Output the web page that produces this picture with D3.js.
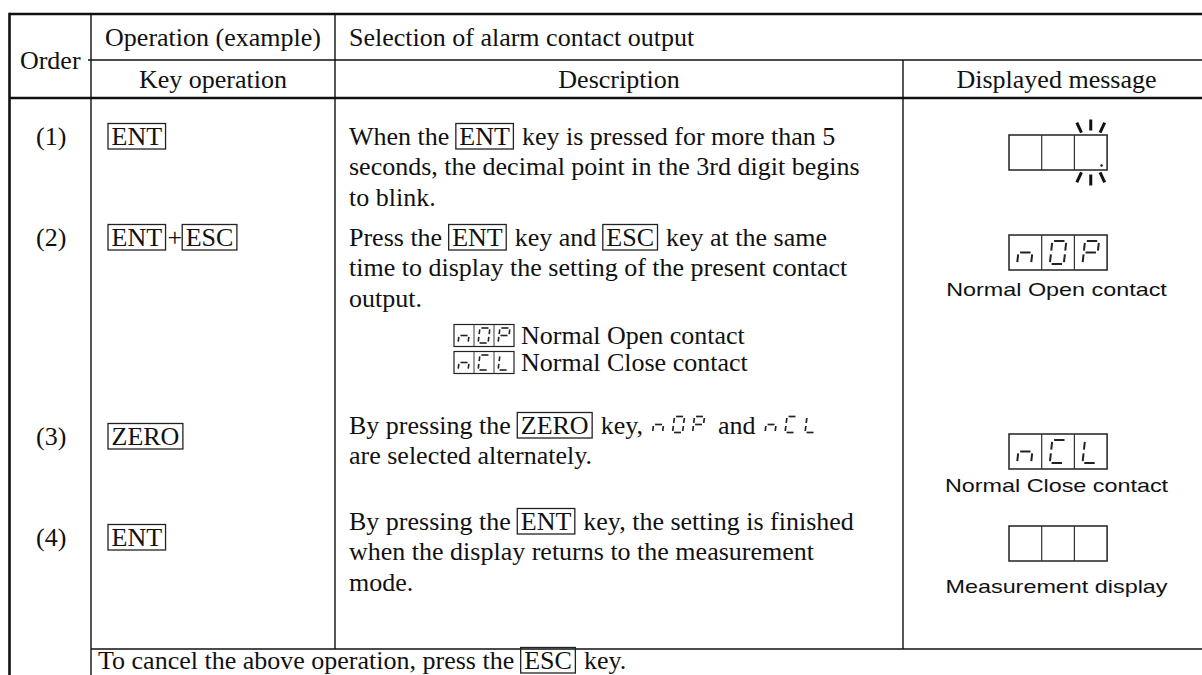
<!DOCTYPE html>
<html><head><meta charset="utf-8">
<script src="https://cdn.jsdelivr.net/npm/d3@7"></script>
<style>html,body{margin:0;padding:0;background:#fff;} svg{display:block} text{white-space:pre}</style>
</head><body><svg id="c" width="1202" height="675"></svg>
<script>
// ---------- data ----------
const headerTop = ["Order", "Operation (example)", "Selection of alarm contact output"];
const headerSub = ["Key operation", "Description", "Displayed message"];
const orders = ["(1)", "(2)", "(3)", "(4)"];
const keyOps = [
  [{k: "ENT"}],
  [{k: "ENT"}, "+", {k: "ESC"}],
  [{k: "ZERO"}],
  [{k: "ENT"}]
];
const descriptions = [
  [["When the ", {k: "ENT"}, " key is pressed for more than 5"],
   ["seconds, the decimal point in the 3rd digit begins"],
   ["to blink."]],
  [["Press the ", {k: "ENT"}, " key and ", {k: "ESC"}, " key at the same"],
   ["time to display the setting of the present contact"],
   ["output."]],
  [["By pressing the ", {k: "ZERO"}, " key, ", {s: "nOP"}, " and ", {s: "nCL"}],
   ["are selected alternately."]],
  [["By pressing the ", {k: "ENT"}, " key, the setting is finished"],
   ["when the display returns to the measurement"],
   ["mode."]]
];
const legendCodes = ["nOP", "nCL"];
const legendTexts = ["Normal Open contact", "Normal Close contact"];
const displayCodes = ["   ", "nOP", "nCL", "   "];
const displayLabels = [null, "Normal Open contact", "Normal Close contact", "Measurement display"];
const blinkRow = 0;
const footnote = ["To cancel the above operation, press the ", {k: "ESC"}, " key."];

// seven-segment map
const SEG = {
  "n": "ceg", "0": "abcdef", "O": "abcdef", "P": "abefg", "C": "adef", "L": "def", " ": ""
};

// ---------- layout ----------
const svg = d3.select("#c");
const SERIF = "'Liberation Serif','Times New Roman',serif";
const SANS = "'Liberation Sans',Arial,sans-serif";
const FS = 26;
const colX = [9.5, 91, 335, 903, 1202];
const yTop = 14, yMid = 60, yHead = 98, yFoot = 649, yEnd = 675;
const lineGap = 30.6;
const descBase = [144.5, 245.5, 433.5, 529.5];
const orderBase = [144.5, 245.5, 444.5, 545.5];
const dispTop = [135, 235, 434, 526];
const labelMid = [null, 289, 485, 586];
const legendBase = [343.5, 370.5];

const g = svg.append("g");

function line(x1, y1, x2, y2, w) {
  g.append("line").attr("x1", x1).attr("y1", y1).attr("x2", x2).attr("y2", y2)
    .attr("stroke", "#111").attr("stroke-width", w);
}

// seven segment glyph
function glyph(parent, ch, x, y, w, h, sw, sl) {
  const P = {
    TL: [x + sl, y], TR: [x + w + sl, y],
    ML: [x + sl / 2, y + h / 2], MR: [x + w + sl / 2, y + h / 2],
    BL: [x, y + h], BR: [x + w, y + h]
  };
  const segs = {a: ["TL", "TR"], b: ["TR", "MR"], c: ["MR", "BR"], d: ["BL", "BR"],
                e: ["ML", "BL"], f: ["TL", "ML"], g: ["ML", "MR"]};
  const gap = sw * 0.9;
  (SEG[ch] || "").split("").forEach(s => {
    const [p, q] = segs[s].map(k => P[k]);
    const dx = q[0] - p[0], dy = q[1] - p[1], L = Math.hypot(dx, dy);
    const ux = dx / L, uy = dy / L;
    parent.append("line")
      .attr("x1", p[0] + ux * gap).attr("y1", p[1] + uy * gap)
      .attr("x2", q[0] - ux * gap).attr("y2", q[1] - uy * gap)
      .attr("stroke", "#222").attr("stroke-width", sw).attr("stroke-linecap", "butt");
  });
}

// display box with cells
function displayBox(parent, code, x, y, cw, ch, gw, gh, sw, bw) {
  const n = code.length;
  parent.append("rect").attr("x", x).attr("y", y).attr("width", cw * n).attr("height", ch)
    .attr("fill", "none").attr("stroke", "#222").attr("stroke-width", bw);
  d3.range(1, n).forEach(i => {
    parent.append("line").attr("x1", x + cw * i).attr("x2", x + cw * i)
      .attr("y1", y).attr("y2", y + ch).attr("stroke", "#333").attr("stroke-width", bw * 0.8);
  });
  code.split("").forEach((c, i) => {
    const sl = gw * 0.18;
    glyph(parent, c, x + cw * i + (cw - gw - sl) / 2, y + (ch - gh) / 2, gw, gh, sw, sl);
  });
}

// rich text line: tokens are strings, {k:key}, {s:segments}
function richLine(tokens, x, base) {
  let cur = x;
  tokens.forEach(t => {
    if (typeof t === "string") {
      const tx = g.append("text").attr("x", cur).attr("y", base)
        .attr("font-family", SERIF).attr("font-size", FS).attr("fill", "#111").text(t);
      cur += tx.node().getComputedTextLength();
    } else if (t.k) {
      const tx = g.append("text").attr("x", cur + 3.5).attr("y", base)
        .attr("font-family", SERIF).attr("font-size", FS).attr("fill", "#111").text(t.k);
      const w = tx.node().getComputedTextLength();
      g.append("rect").attr("x", cur).attr("y", base - 21).attr("width", w + 7).attr("height", 25.5)
        .attr("fill", "none").attr("stroke", "#222").attr("stroke-width", 1.3);
      cur += w + 9;
    } else if (t.s) {
      t.s.split("").forEach((c, i) => {
        glyph(g, c, cur + 3 + i * 20, base - 17, 10, 16, 1.7, 2);
      });
      cur += t.s.length * 20 + 2;
    }
  });
  return cur;
}

function centerText(str, cx, base, family, size) {
  return g.append("text").attr("x", cx).attr("y", base).attr("text-anchor", "middle")
    .attr("font-family", family).attr("font-size", size).attr("fill", "#111").text(str);
}

// ---------- grid ----------
line(colX[0], yTop, colX[4], yTop, 2.4);
line(colX[0], yTop - 1.2, colX[0], yEnd, 2.6);
line(colX[1], yTop, colX[1], yEnd, 1.4);
line(colX[2], yTop, colX[2], yFoot, 1.4);
line(colX[3], yMid, colX[3], yFoot, 1.4);
line(colX[1] - 3, yMid, colX[4], yMid, 1.3);
line(colX[0], yHead, colX[4], yHead, 2.6);
line(colX[1], yFoot, colX[4], yFoot, 1.4);

// ---------- headers ----------
centerText(headerTop[0], (colX[0] + colX[1]) / 2, 69, SERIF, FS);
centerText(headerTop[1], (colX[1] + colX[2]) / 2, 46, SERIF, FS);
g.append("text").attr("x", colX[2] + 14).attr("y", 46).attr("font-family", SERIF)
  .attr("font-size", FS).attr("fill", "#111").text(headerTop[2]);
centerText(headerSub[0], (colX[1] + colX[2]) / 2, 88, SERIF, FS);
centerText(headerSub[1], (colX[2] + colX[3]) / 2, 88, SERIF, FS);
centerText(headerSub[2], (colX[3] + colX[4]) / 2 + 4, 88, SERIF, FS);

// ---------- body rows ----------
orders.forEach((o, i) => {
  centerText(o, (colX[0] + colX[1]) / 2 + 1, orderBase[i], SERIF, FS);
  richLine(keyOps[i], 108, orderBase[i]);
  descriptions[i].forEach((ln, j) => richLine(ln, colX[2] + 14, descBase[i] + j * lineGap));
});

// legend inside row 2 description
legendCodes.forEach((c, i) => {
  const b = legendBase[i];
  displayBox(g, c, 454, b - 19, 20, 22, 10, 15, 1.6, 1.2);
  g.append("text").attr("x", 521).attr("y", b).attr("font-family", SERIF)
    .attr("font-size", FS).attr("fill", "#111").text(legendTexts[i]);
});

// displayed message column
const dispX = 1009, cellW = 32.7, cellH = 35;
displayCodes.forEach((c, i) => {
  displayBox(g, c, dispX, dispTop[i], cellW, cellH, 14, 23, 2, 1.5);
  if (displayLabels[i]) {
    const cx = (colX[3] + colX[4]) / 2 + 4;
    const t = g.append("text").attr("x", 0).attr("y", 0).attr("text-anchor", "middle")
      .attr("font-family", SANS).attr("font-size", 19).attr("fill", "#111").text(displayLabels[i]);
    t.attr("transform", `translate(${cx},${labelMid[i] + 7}) scale(1.23,1)`);
  }
});

// blinking decimal point
{
  const cx = dispX + cellW * 2.5, cy = dispTop[blinkRow] + cellH / 2;
  g.append("circle").attr("cx", dispX + cellW * 3 - 5.5).attr("cy", dispTop[blinkRow] + cellH - 4.5)
    .attr("r", 1.2).attr("fill", "#111");
  const angles = [-115, -90, -65, 65, 90, 115];
  angles.forEach(a => {
    const r = a * Math.PI / 180;
    const r1 = 22, r2 = 33;
    g.append("line")
      .attr("x1", cx + Math.cos(r) * r1).attr("y1", cy + Math.sin(r) * r1)
      .attr("x2", cx + Math.cos(r) * r2).attr("y2", cy + Math.sin(r) * r2)
      .attr("stroke", "#111").attr("stroke-width", 3);
  });
}

// footnote
richLine(footnote, colX[1] + 7, 668.5);
</script></body></html>
